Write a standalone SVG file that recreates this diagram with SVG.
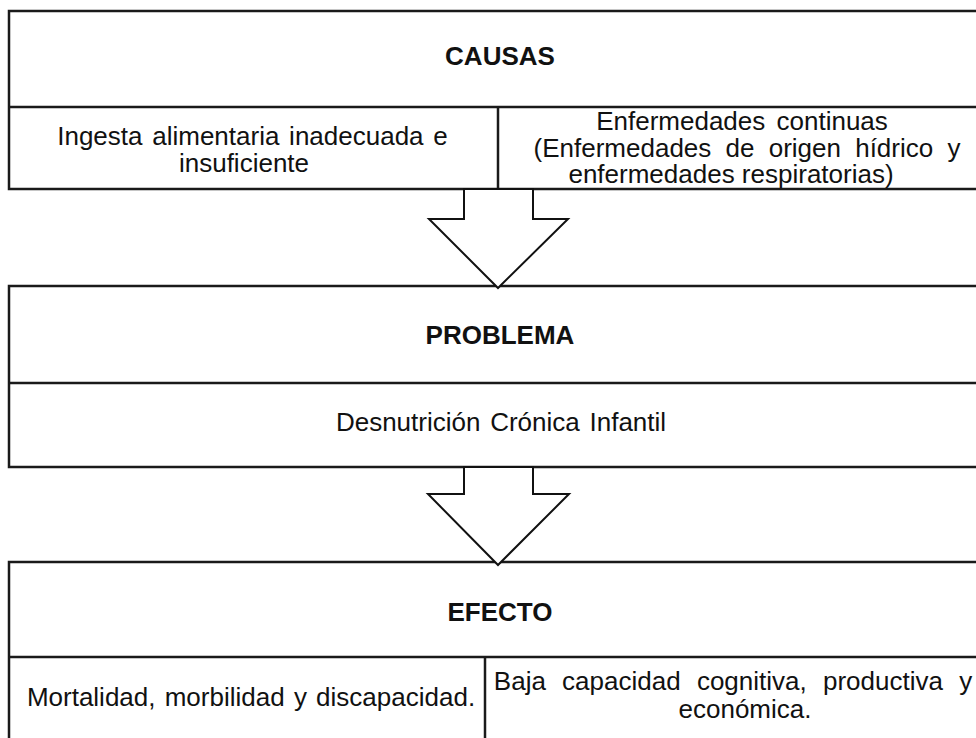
<svg xmlns="http://www.w3.org/2000/svg" width="976" height="738" viewBox="0 0 976 738">
<style>
.b{fill:#fff;stroke:#1a1a1a;stroke-width:2.5}
.l{stroke:#1a1a1a;stroke-width:2.5;fill:none}
.a{fill:#fff;stroke:#111;stroke-width:2}
.t{font-family:"Liberation Sans",Arial,sans-serif;font-size:26px;fill:#111;text-anchor:middle;word-spacing:2.5px}
.h{font-family:"Liberation Sans",Arial,sans-serif;font-size:26px;font-weight:bold;fill:#111;text-anchor:middle}
</style>
<rect width="976" height="738" fill="#fff"/>
<g id="causas">
<rect class="b" x="9" y="11" width="980" height="178"/>
<line class="l" x1="9" y1="107" x2="990" y2="107"/>
<line class="l" x1="498" y1="107" x2="498" y2="189"/>
<text class="h" x="500" y="65">CAUSAS</text>
<text class="t" x="252.5" y="145">Ingesta alimentaria inadecuada e</text>
<text class="t" x="244" y="172">insuficiente</text>
<text class="t" x="742" y="130" style="word-spacing:4px">Enfermedades continuas</text>
<text class="t" x="747" y="157" style="word-spacing:7px">(Enfermedades de origen hídrico y</text>
<text class="t" x="731" y="183" style="word-spacing:0">enfermedades respiratorias)</text>
</g>
<g id="problema">
<rect class="b" x="9" y="286" width="980" height="181"/>
<line class="l" x1="9" y1="383" x2="990" y2="383"/>
<text class="h" x="500" y="344">PROBLEMA</text>
<text class="t" x="501" y="431">Desnutrición Crónica Infantil</text>
</g>
<g id="efecto">
<rect class="b" x="9" y="562" width="980" height="200"/>
<line class="l" x1="9" y1="657" x2="990" y2="657"/>
<line class="l" x1="485" y1="657" x2="485" y2="740"/>
<text class="h" x="500" y="621">EFECTO</text>
<text class="t" x="251" y="706" style="word-spacing:2px">Mortalidad, morbilidad y discapacidad.</text>
<text class="t" x="733" y="690" style="word-spacing:9px">Baja capacidad cognitiva, productiva y</text>
<text class="t" x="745" y="718">económica.</text>
</g>
<g id="connectors">
<polygon class="a" points="464,189 533,189 533,219 568,219 498,288 429,219 464,219"/>
<polygon class="a" points="464,467 533,467 533,494 569,494 498,565 428,494 464,494"/>
</g>
</svg>
